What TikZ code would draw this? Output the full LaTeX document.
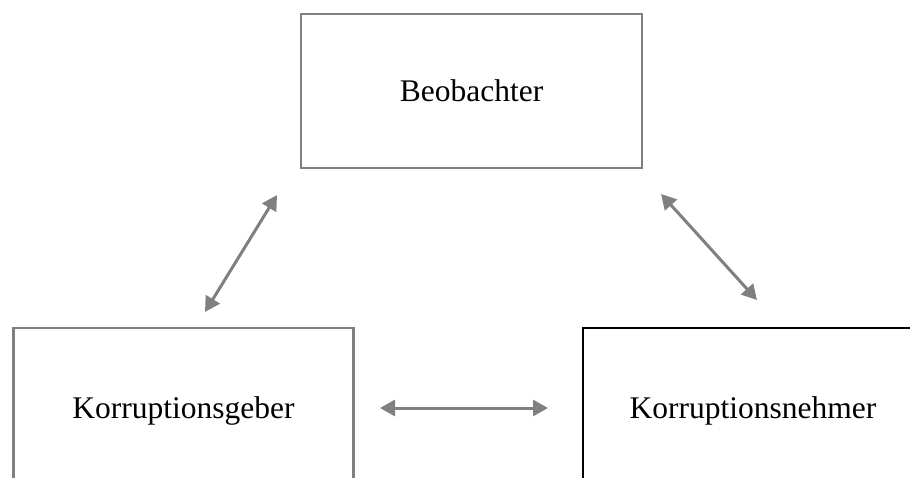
\documentclass[tikz,border=0pt]{standalone}
\usepackage{fontspec}
\setmainfont{Liberation Serif}
\usetikzlibrary{positioning, arrows.meta}

\definecolor{boxgray}{HTML}{808080}

\begin{document}
\begin{tikzpicture}[x=1pt, y=-1pt, node distance = 320pt and 288pt, on grid,
    role/.style={draw=boxgray, line width=2.5pt, minimum width=340pt,
      minimum height=166pt, inner sep=0pt, font=\fontsize{31.5}{38}\selectfont},
    link/.style={draw=boxgray, line width=3pt,
      {Triangle[length=15pt,width=16pt]}-{Triangle[length=15pt,width=16pt]}}]
  \useasboundingbox (0,0) rectangle (910,477);
  \clip (0,0) rectangle (910,477);
  \node[role, minimum width=341pt, minimum height=154pt] (obs) at (471.5,91) {Beobachter};
  \node[role] (giver) [below left=of obs] {Korruptionsgeber};
  \node[role, draw=black] (taker) [below right=320pt and 281.5pt of obs] {Korruptionsnehmer};
  % arrow ends
  \coordinate (obsL) at (277,195);
  \coordinate (giverT) at (205,312);
  \coordinate (obsR) at (661,194);
  \coordinate (takerT) at (757,300);
  \coordinate (giverR) at (380,408);
  \coordinate (takerL) at (548,408);
  \path[link] (giverT) -- (obsL);
  \path[link] (obsR) -- (takerT);
  \path[link] (giverR) -- (takerL);
\end{tikzpicture}
\end{document}
